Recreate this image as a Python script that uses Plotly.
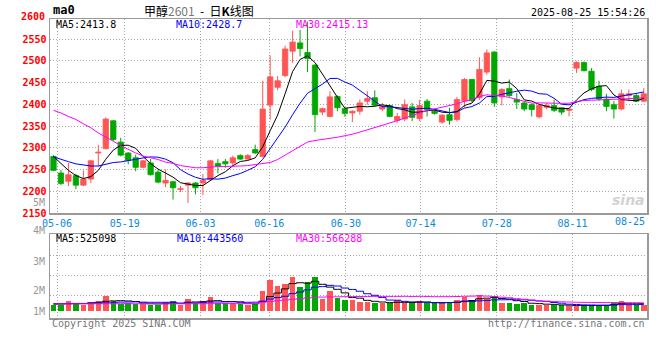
import plotly.graph_objects as go

# ---------------- data ----------------
TICK_LABELS = ["05-06", "05-19", "06-03", "06-16", "06-30", "07-14", "07-28", "08-11", "08-25"]

OPEN = [2280, 2242, 2223, 2236, 2214, 2228, 2288, 2298, 2362, 2313,
        2288, 2277, 2255, 2265, 2244, 2219, 2222, 2204, 2214, 2219,
        2219, 2227, 2264, 2268, 2265, 2282, 2274, 2296, 2280, 2398,
        2439, 2466, 2522, 2541, 2519, 2490, 2382, 2372, 2418, 2390,
        2380, 2384, 2407, 2415, 2389, 2397, 2363, 2366, 2394, 2367,
        2407, 2384, 2359, 2376, 2365, 2407, 2457, 2415, 2474, 2520,
        2417, 2436, 2411, 2403, 2399, 2371, 2393, 2397, 2392, 2386,
        2483, 2496, 2476, 2441, 2412, 2399, 2389, 2420, 2420, 2407]
HIGH = [2283, 2249, 2265, 2240, 2248, 2272, 2307, 2370, 2364, 2323,
        2290, 2284, 2272, 2274, 2250, 2250, 2223, 2212, 2221, 2221,
        2240, 2272, 2274, 2274, 2282, 2285, 2285, 2307, 2454, 2512,
        2465, 2535, 2569, 2571, 2590, 2492, 2392, 2430, 2420, 2392,
        2386, 2411, 2430, 2432, 2403, 2400, 2380, 2411, 2403, 2410,
        2412, 2389, 2377, 2392, 2417, 2460, 2458, 2508, 2526, 2522,
        2437, 2457, 2426, 2407, 2401, 2400, 2403, 2411, 2393, 2392,
        2499, 2498, 2483, 2454, 2424, 2407, 2434, 2434, 2424, 2437]
LOW = [2246, 2214, 2212, 2205, 2212, 2219, 2257, 2296, 2315, 2280,
       2262, 2246, 2253, 2236, 2218, 2209, 2181, 2198, 2173, 2193,
       2191, 2225, 2241, 2254, 2258, 2272, 2272, 2286, 2278, 2365,
       2432, 2462, 2495, 2510, 2474, 2336, 2375, 2370, 2384, 2371,
       2359, 2376, 2399, 2395, 2384, 2370, 2357, 2361, 2361, 2361,
       2372, 2376, 2355, 2353, 2360, 2392, 2405, 2410, 2468, 2394,
       2397, 2417, 2389, 2384, 2372, 2367, 2388, 2382, 2376, 2372,
       2472, 2476, 2430, 2408, 2384, 2367, 2386, 2407, 2405, 2405]
CLOSE = [2248, 2218, 2238, 2214, 2228, 2270, 2290, 2366, 2319, 2283,
         2271, 2255, 2270, 2238, 2221, 2225, 2208, 2206, 2219, 2208,
         2225, 2270, 2258, 2263, 2277, 2274, 2282, 2288, 2389, 2463,
         2454, 2527, 2543, 2528, 2505, 2376, 2390, 2417, 2392, 2379,
         2384, 2403, 2413, 2398, 2395, 2372, 2372, 2399, 2370, 2397,
         2388, 2379, 2375, 2363, 2411, 2457, 2408, 2480, 2518, 2403,
         2434, 2420, 2405, 2389, 2388, 2397, 2397, 2386, 2382, 2389,
         2496, 2477, 2434, 2412, 2395, 2389, 2424, 2424, 2407, 2424]
VOLUME = [442000, 442000, 685000, 553000, 442000, 619000, 685000, 1017000, 685000, 508000,
          530000, 508000, 530000, 442000, 442000, 619000, 685000, 442000, 818000, 530000,
          685000, 950000, 530000, 530000, 530000, 508000, 442000, 508000, 1348000, 2077000,
          1680000, 1812000, 2276000, 1613000, 1945000, 2276000, 840000, 1348000, 884000, 751000,
          751000, 619000, 619000, 575000, 530000, 530000, 751000, 575000, 530000, 685000,
          530000, 530000, 530000, 619000, 751000, 928000, 751000, 1083000, 840000, 1017000,
          575000, 575000, 508000, 575000, 442000, 442000, 398000, 442000, 398000, 354000,
          354000, 354000, 442000, 442000, 398000, 575000, 685000, 398000, 442000, 442000]

# moving-average values at the start of the window (depend on days before it)
MA5_HEAD = [2280, 2263, 2248, 2236]
MA10_HEAD = [2279, 2273, 2268, 2263, 2260, 2258, 2258, 2262, 2266]
MA30_HEAD = [2386, 2380, 2372, 2365, 2355, 2346, 2334, 2325, 2315, 2305,
             2296, 2288, 2281, 2277, 2273, 2267, 2264, 2259, 2257, 2254,
             2254, 2256, 2257, 2257, 2257, 2258, 2259, 2261, 2264]
VMA5_HEAD = [470000, 480000, 500000, 510000]
VMA10_HEAD = [515000, 512000, 518000, 522000, 520000, 530000, 540000, 560000, 565000]
VMA30_HEAD = [490000, 490000, 492000, 494000, 494000, 496000, 498000, 500000, 502000, 502000,
              502000, 500000, 500000, 498000, 496000, 496000, 498000, 496000, 500000, 500000,
              502000, 506000, 506000, 508000, 510000, 510000, 512000, 516000, 600000]


def moving_avg(vals, n, head):
    out = list(head)
    for i in range(len(head), len(vals)):
        out.append(sum(vals[i - n + 1:i + 1]) / n)
    return out


MA5 = moving_avg(CLOSE, 5, MA5_HEAD)
MA10 = moving_avg(CLOSE, 10, MA10_HEAD)
MA30 = moving_avg(CLOSE, 30, MA30_HEAD)
VMA5 = moving_avg(VOLUME, 5, VMA5_HEAD)
VMA10 = moving_avg(VOLUME, 10, VMA10_HEAD)
VMA30 = moving_avg(VOLUME, 30, VMA30_HEAD)

# ---------------- geometry / style ----------------
W, H = 660, 360
ML, MR, MT, MB = 50, 11, 19, 42
PW, PH = W - ML - MR, H - MT - MB


def px(X):
    return (X - ML) / PW


def py(Y):
    return (H - MB - Y) / PH


XR = [-0.467, 79.43]
PRICE_RANGE = [2150, 2596]
VOL_PER_PX = 66300
VOL_ZERO_Y = 311.3
VOL_RANGE = [-(318 - VOL_ZERO_Y) * VOL_PER_PX, (VOL_ZERO_Y - 234) * VOL_PER_PX]
VOL_GRID = [(VOL_ZERO_Y - Y) * VOL_PER_PX for Y in (255, 275, 295)]
GRID_X = [0.47, 9.53, 19.67, 28.87, 39.13, 49.13, 59.33, 69.47]

RED, GREEN = "#ff5555", "#00a800"
MONO = "DejaVu Sans Mono"
GRID = dict(showgrid=True, gridcolor="#a8a8a8", gridwidth=1, griddash="1px,2px",
            showline=True, mirror=True, linecolor="#9a9a9a", linewidth=1.5,
            zeroline=False, ticks="", fixedrange=True)

idx = list(range(len(CLOSE)))
up = [c >= o for o, c in zip(OPEN, CLOSE)]
colors = [RED if u else GREEN for u in up]

fig = go.Figure()

# wicks
for flag, col in ((True, RED), (False, GREEN)):
    xs, ys = [], []
    for i in idx:
        if up[i] == flag:
            xs += [i, i, None]
            ys += [LOW[i], HIGH[i], None]
    fig.add_trace(go.Scatter(x=xs, y=ys, mode="lines", line=dict(color=col, width=1),
                             hoverinfo="skip", xaxis="x", yaxis="y"))
# bodies
fig.add_trace(go.Bar(x=idx, y=[abs(c - o) for o, c in zip(OPEN, CLOSE)],
                     base=[min(o, c) for o, c in zip(OPEN, CLOSE)],
                     width=0.72, marker=dict(color=colors, line=dict(color=colors, width=0.8)),
                     xaxis="x", yaxis="y"))
for ma, col in ((MA5, "#000000"), (MA10, "#0000ff"), (MA30, "#ff00ff")):
    fig.add_trace(go.Scatter(x=idx, y=ma, mode="lines", line=dict(color=col, width=1),
                             xaxis="x", yaxis="y"))

# volume
fig.add_trace(go.Bar(x=idx, y=VOLUME, width=0.74,
                     marker=dict(color=colors, line=dict(width=0)), xaxis="x2", yaxis="y2"))
for ma, col in ((VMA5, "#000000"), (VMA10, "#0000ff"), (VMA30, "#ff00ff")):
    fig.add_trace(go.Scatter(x=idx, y=ma, mode="lines", line=dict(color=col, width=1, shape="hvh"),
                             xaxis="x2", yaxis="y2"))

ann = []


def add(text, X, Y, color="#000", size=10, xanchor="left", family=MONO, weight="normal"):
    ann.append(dict(text=text, x=px(X), y=py(Y), xref="paper", yref="paper",
                    xanchor=xanchor, yanchor="middle", showarrow=False,
                    font=dict(family=family, size=size, color=color, weight=weight)))


add("ma0", 51, 10, size=12, weight="bold")
add("甲醇<span style='color:#777'>2601</span>\u00a0\u00a0-\u00a0\u00a0日<b>K</b>线图", 200, 10,
    size=12, xanchor="center", family="Noto Sans CJK SC")
add("2025-08-25 15:54:26", 649, 12, xanchor="right")
add("MA5:2413.8", 54, 24.5)
add("MA10:2428.7", 174, 24.5, color="#0000ff")
add("MA30:2415.13", 295, 24.5, color="#ff00ff")
add("MA5:525098", 54, 238.5)
add("MA10:443560", 175, 238.5, color="#0000ff")
add("MA30:566288", 295, 238.5, color="#ff00ff")
add("2600", 47, 16, color="#ff0000", xanchor="right", weight="bold")
for lab, Y in (("5M", 202), ("4M", 230.5), ("3M", 261), ("2M", 290.5), ("1M", 311)):
    add(lab, 47, Y, color="#999999", xanchor="right", size=10)
add(TICK_LABELS[-1], 649, 221.5, color="#0a8ad8", xanchor="right")
add("Copyright 2025 SINA.COM", 50, 323.5, color="#777777")
add("http://finance.sina.com.cn", 649, 323.5, color="#777777", xanchor="right")
add("<i>sina</i>", 649, 200, color="#d2d2d2", size=14, xanchor="right", family="DejaVu Sans",
    weight="bold")

fig.update_layout(
    width=W, height=H, margin=dict(l=ML, r=MR, t=MT, b=MB, pad=0),
    paper_bgcolor="white", plot_bgcolor="white", showlegend=False, bargap=0,
    font=dict(family=MONO, size=10, color="#000"),
    xaxis=dict(domain=[0, 1], anchor="y", range=XR, tickvals=GRID_X, ticktext=TICK_LABELS[:-1],
               tickfont=dict(family=MONO, size=10, color="#0a8ad8"), **GRID),
    yaxis=dict(domain=[py(213), 1], anchor="x", range=PRICE_RANGE,
               tickvals=list(range(2150, 2551, 50)),
               tickfont=dict(family=MONO, size=10, color="#ff0000", weight="bold"), **GRID),
    xaxis2=dict(domain=[0, 1], anchor="y2", range=XR, tickvals=GRID_X, showticklabels=False, **GRID),
    yaxis2=dict(domain=[0, py(234)], anchor="x2", range=VOL_RANGE, tickvals=VOL_GRID,
                showticklabels=False, **GRID),
    annotations=ann,
)

fig.write_html("out.html", config={"displayModeBar": False, "staticPlot": True})
